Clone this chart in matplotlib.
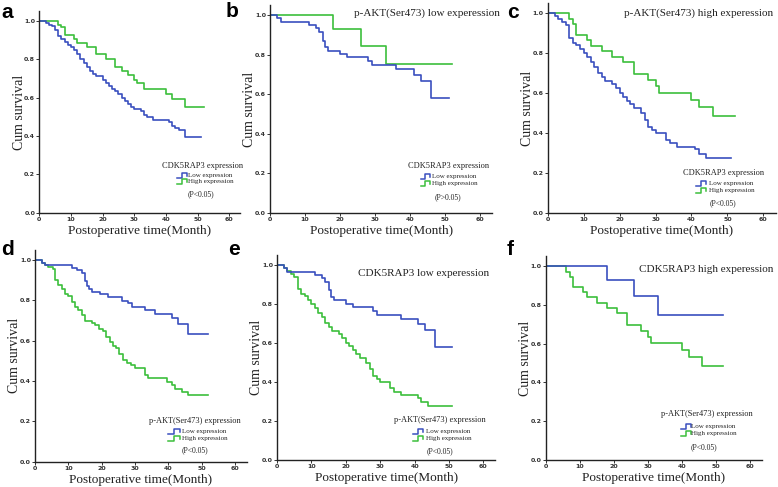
import matplotlib
matplotlib.use("Agg")
import matplotlib.pyplot as plt

# ---------------- data (step survival curves: event times, survival after event) ----------
# a: CDK5RAP3 expression overall
a_low_t = [0, 2, 3, 4, 5, 6, 7, 8, 9, 10, 11, 12, 13, 14, 15, 16, 17, 18, 20, 21, 22, 23, 24, 25,
           26, 27, 28, 29, 30, 32, 33, 34, 36, 41, 42, 43, 44, 46, 51]
a_low_s = [1.0, 0.99, 0.98, 0.97, 0.95, 0.92, 0.905, 0.89, 0.875, 0.865, 0.845, 0.825, 0.80, 0.78,
           0.76, 0.74, 0.725, 0.71, 0.69, 0.675, 0.66, 0.645, 0.635, 0.62, 0.60, 0.58, 0.565, 0.55,
           0.54, 0.53, 0.51, 0.50, 0.485, 0.47, 0.45, 0.44, 0.43, 0.393, 0.393]
a_high_t = [0, 6, 7, 8, 11, 12, 15, 18, 21, 24, 26, 28, 30, 31, 33, 40, 42, 46, 52]
a_high_s = [1.0, 0.98, 0.965, 0.925, 0.905, 0.885, 0.865, 0.826, 0.80, 0.757, 0.74, 0.717, 0.69,
            0.674, 0.646, 0.618, 0.59, 0.552, 0.552]

# subgroups: CDK5RAP3 low/high x p-AKT low/high
ll_t = [0, 2, 3, 11, 13, 14, 15, 15.7, 16.7, 20, 22, 28, 29, 36, 41, 43, 46, 51]
ll_s = [1.0, 0.983, 0.966, 0.95, 0.933, 0.915, 0.87, 0.836, 0.82, 0.802, 0.786, 0.766, 0.746,
        0.725, 0.695, 0.665, 0.58, 0.58]
hl_t = [0, 18, 26, 33, 52]
hl_s = [1.0, 0.929, 0.845, 0.75, 0.75]
lh_t = [0, 2, 3, 4, 5, 6, 7, 8, 9, 10, 11, 12, 13, 14, 15, 16, 18, 19, 20, 21, 22, 23, 24, 26, 27,
        28, 29, 30, 33, 34, 36, 41, 42, 44, 51]
lh_s = [1.0, 0.985, 0.97, 0.955, 0.94, 0.875, 0.85, 0.84, 0.82, 0.80, 0.78, 0.755, 0.733, 0.703,
        0.683, 0.66, 0.645, 0.625, 0.60, 0.583, 0.563, 0.545, 0.525, 0.50, 0.467, 0.433, 0.415,
        0.40, 0.367, 0.35, 0.333, 0.32, 0.297, 0.275, 0.275]
hh_t = [0, 6, 7, 8, 11, 12, 15, 18, 21, 24, 28, 30, 31, 40, 42, 46, 52]
hh_s = [1.0, 0.97, 0.945, 0.89, 0.865, 0.838, 0.81, 0.783, 0.756, 0.697, 0.667, 0.636, 0.603,
        0.566, 0.529, 0.484, 0.484]

# d: p-AKT(Ser473) expression overall
d_low_t = [0, 2, 3, 11, 12.5, 14, 15, 15.5, 16.2, 17, 19.5, 22, 26, 28, 29, 33, 36, 41, 43, 46, 52]
d_low_s = [1.0, 0.985, 0.975, 0.96, 0.95, 0.934, 0.896, 0.87, 0.856, 0.843, 0.83, 0.815, 0.797,
           0.785, 0.768, 0.752, 0.732, 0.71, 0.683, 0.631, 0.631]
d_high_t = [0, 2, 3, 4, 5.3, 6, 7, 8, 9, 10, 11, 12, 13, 14, 15, 17, 18, 19.3, 20.5, 21.3, 22.5,
            23.5, 24.3, 25.3, 26.3, 27.5, 28.7, 30, 33, 34, 36, 39.5, 41, 42, 44, 46, 52]
d_high_s = [1.0, 0.985, 0.975, 0.965, 0.955, 0.90, 0.875, 0.855, 0.83, 0.82, 0.79, 0.765, 0.75,
            0.727, 0.70, 0.69, 0.678, 0.66, 0.65, 0.62, 0.595, 0.575, 0.562, 0.534, 0.504, 0.49,
            0.48, 0.463, 0.43, 0.415, 0.413, 0.395, 0.38, 0.36, 0.347, 0.33, 0.33]

xticks = [0, 10, 20, 30, 40, 50, 60]
yticks = [0.0, 0.2, 0.4, 0.6, 0.8, 1.0]
legend_labels = ["Low expression", "High expression"]

BLUE = "#3a4fbf"
GREEN = "#3cbf3c"

W, H = 778, 487
fig = plt.figure(figsize=(W / 100, H / 100), dpi=100)
SERIF = ["Liberation Serif", "DejaVu Serif"]


def add_ax(left, top, width, height):
    return fig.add_axes([left / W, 1 - (top + height) / H, width / W, height / H])


panels = [
    dict(letter="a", box=(39.3, 11.1, 201.1, 201.6), lpos=(1, 3),
         low=(a_low_t, a_low_s), high=(a_high_t, a_high_s),
         lt="CDK5RAP3 expression", p="(P<0.05)", title=None,
         leg=(0.814, 0.233, 0.685, 0.735, 0.739, 0.185, 0.154, 0.804, 0.093)),
    dict(letter="b", box=(270, 5.1, 222.25, 207.6), lpos=(226, 2),
         low=(ll_t, ll_s), high=(hl_t, hl_s),
         lt="CDK5RAP3 expression", p="(P>0.05)", title=("p-AKT(Ser473) low experession", 0.708, 0.96),
         leg=(0.802, 0.226, 0.678, 0.72, 0.727, 0.173, 0.142, 0.80, 0.074)),
    dict(letter="c", box=(547.7, 3.3, 228.2, 210), lpos=(507, 3),
         low=(lh_t, lh_s), high=(hh_t, hh_s),
         lt="CDK5RAP3 expression", p="(P<0.05)", title=("p-AKT(Ser473) high experession", 0.663, 0.952),
         leg=(0.77, 0.19, 0.65, 0.694, 0.705, 0.143, 0.108, 0.77, 0.048)),
    dict(letter="d", box=(35, 249.9, 211.7, 211.8), lpos=(1, 240),
         low=(d_low_t, d_low_s), high=(d_high_t, d_high_s),
         lt="p-AKT(Ser473) expression", p="(P<0.05)", title=None,
         leg=(0.756, 0.194, 0.628, 0.685, 0.693, 0.142, 0.11, 0.756, 0.052)),
    dict(letter="e", box=(277, 255.25, 218.4, 204.75), lpos=(228, 240),
         low=(ll_t, ll_s), high=(lh_t, lh_s),
         lt="p-AKT(Ser473) expression", p="(P<0.05)", title=("CDK5RAP3 low experession", 0.67, 0.912),
         leg=(0.746, 0.195, 0.624, 0.67, 0.68, 0.138, 0.106, 0.746, 0.045)),
    dict(letter="f", box=(545.7, 256.3, 216.2, 203.7), lpos=(507, 240),
         low=(hl_t, hl_s), high=(hh_t, hh_s),
         lt="p-AKT(Ser473) expression", p="(P<0.05)", title=("CDK5RAP3 high experession", 0.741, 0.936),
         leg=(0.745, 0.226, 0.624, 0.67, 0.67, 0.163, 0.131, 0.73, 0.065)),
]

for pn in panels:
    ax = add_ax(*pn["box"])
    lt, ls = pn["low"]
    ht, hs = pn["high"]
    ax.step(ht, hs, where="post", color=GREEN, lw=1.2)
    ax.step(lt, ls, where="post", color=BLUE, lw=1.2)
    ax.set_xlim(0, 63.5)
    ax.set_ylim(0, 1.05)
    ax.set_xticks(xticks)
    ax.set_yticks(yticks)
    ax.set_yticklabels([f"{v:.1f}" for v in yticks])
    for s in ("top", "right"):
        ax.spines[s].set_visible(False)
    for s in ("left", "bottom"):
        ax.spines[s].set_linewidth(1.0)
        ax.spines[s].set_color("#222222")
    ax.tick_params(length=2, width=0.7, pad=1, labelsize=4.5, colors="#333333")
    for lab in ax.get_xticklabels() + ax.get_yticklabels():
        lab.set_fontweight("bold")
    ax.set_xlabel("Postoperative time(Month)", family=SERIF, fontsize=9.5, labelpad=2, color="#222222")
    ax.set_ylabel("Cum survival", family=SERIF, fontsize=10, labelpad=-1, color="#222222")
    ax.patch.set_alpha(0)

    tx, ty, gx0, gx1, txx, e1, e2, px, py = pn["leg"]
    ax.text(tx, ty, pn["lt"], transform=ax.transAxes, family=SERIF, fontsize=6,
            ha="center", va="center", color="#222222")
    for yy, col, lab in ((e1, BLUE, legend_labels[0]), (e2, GREEN, legend_labels[1])):
        gm = (gx0 + gx1) / 2
        ax.plot([gx0, gm, gm, gx1, gx1], [yy - 0.012, yy - 0.012, yy + 0.012, yy + 0.012, yy - 0.003],
                transform=ax.transAxes, color=col, lw=1.1, clip_on=False)
        ax.text(txx, yy, lab, transform=ax.transAxes, family=SERIF, fontsize=5,
                ha="left", va="center", color="#222222")
    ax.text(px, py, pn["p"], transform=ax.transAxes, family=SERIF, fontsize=5.5,
            ha="center", va="center", color="#222222")
    if pn["title"]:
        tt, ttx, tty = pn["title"]
        ax.text(ttx, tty, tt, transform=ax.transAxes, family=SERIF, fontsize=8,
                ha="center", va="center", color="#222222")

    lx, ly = pn["lpos"]
    fig.text(lx / W, 1 - ly / H, pn["letter"], family=["Liberation Sans", "DejaVu Sans"],
             fontsize=15, fontweight="bold", ha="left", va="top", color="black")

fig.savefig("out.png", dpi=100)
